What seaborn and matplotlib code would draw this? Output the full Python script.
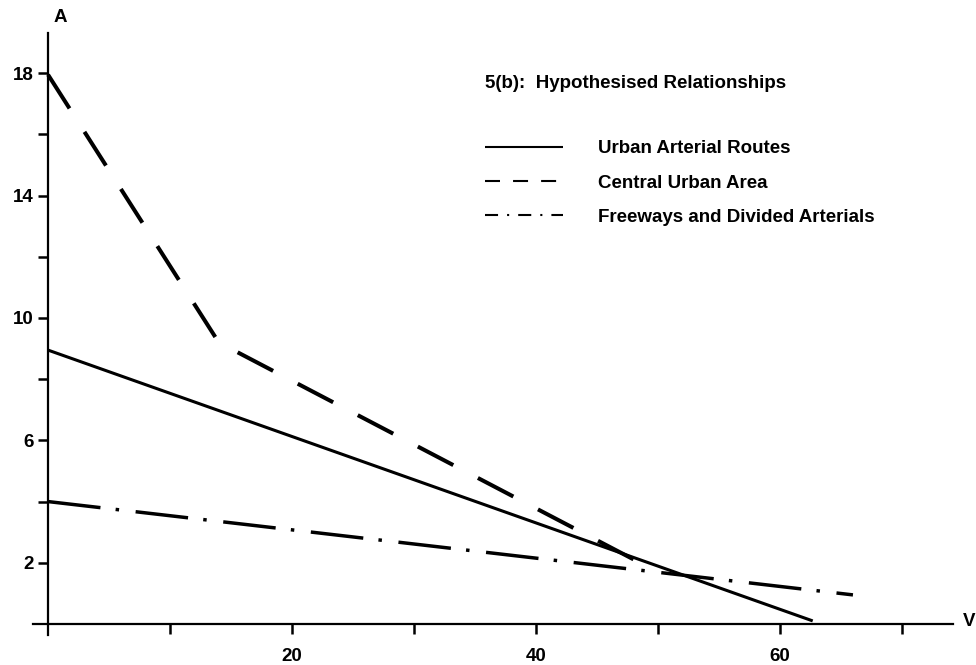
import matplotlib
matplotlib.use("Agg")
import matplotlib.pyplot as plt
from matplotlib.lines import Line2D
import seaborn as sns

# ---- data ----
series_names = ["Urban Arterial Routes", "Central Urban Area", "Freeways and Divided Arterials"]
speed_urban = [0.0, 62.7]
a_urban = [8.95, 0.1]
speed_central = [0.0, 14.0, 48.3]
a_central = [17.95, 9.2, 2.05]
speed_freeway = [0.0, 66.0]
a_freeway = [4.0, 0.95]

x_major = [20, 40, 60]
x_minor = [10, 30, 50, 70]
y_major = [2, 6, 10, 14, 18]
y_minor = [4, 8, 12, 16]
title_text = "5(b):  Hypothesised Relationships"

sns.set_theme(style="white")
plt.rcParams["font.family"] = ["Liberation Sans", "DejaVu Sans"]
plt.rcParams["font.weight"] = "bold"
plt.rcParams["lines.scale_dashes"] = False

FS = 13.5
fig = plt.figure(figsize=(9.76, 6.65), dpi=100)
ax = fig.add_axes([0.0342, 0.0456, 0.9422, 0.9042])
ax.set_facecolor("white")

sns.lineplot(x=speed_urban, y=a_urban, ax=ax, color="black", linewidth=2.2,
             estimator=None, sort=False, legend=False)
ax.lines[-1].set_solid_capstyle("butt")
sns.lineplot(x=speed_central, y=a_central, ax=ax, color="black", linewidth=2.9,
             estimator=None, sort=False, legend=False)
ax.lines[-1].set_dashes([28.8, 20.0])
sns.lineplot(x=speed_freeway, y=a_freeway, ax=ax, color="black", linewidth=2.5,
             estimator=None, sort=False, legend=False)
ax.lines[-1].set_dashes([38.0, 11.0, 2.5, 12.0])

ax.set_xlim(-1.2, 74.2)
ax.set_ylim(-0.35, 19.3)

for s in ["top", "right"]:
    ax.spines[s].set_visible(False)
ax.spines["left"].set_position(("data", 0))
ax.spines["bottom"].set_position(("data", 0))
for s in ["left", "bottom"]:
    ax.spines[s].set_color("black")
    ax.spines[s].set_linewidth(1.6)

ax.set_xticks(x_major)
ax.set_xticks(x_minor, minor=True)
ax.set_yticks(y_major)
ax.set_yticks(y_minor, minor=True)
ax.set_xticklabels([str(v) for v in x_major])
ax.set_yticklabels([str(v) for v in y_major])
ax.tick_params(axis="x", which="both", direction="out", length=7, width=1.8,
               color="black", bottom=True)
ax.tick_params(axis="y", which="both", direction="out", length=7, width=1.8,
               color="black", left=True)
ax.tick_params(axis="x", which="major", pad=10, labelsize=FS, labelcolor="black")
ax.tick_params(axis="y", which="major", pad=3.5, labelsize=FS, labelcolor="black")
for lab in ax.get_xticklabels() + ax.get_yticklabels():
    lab.set_fontweight("bold")

ax.set_xlabel("")
ax.set_ylabel("")

# axis letters
fig.text(60 / 976, 1 - 17 / 665, "A", ha="center", va="center", fontsize=FS,
         fontweight="bold", color="black")
fig.text(975 / 976, 1 - 622 / 665, "V", ha="right", va="center", fontsize=FS,
         fontweight="bold", color="black")

# heading
fig.text(485 / 976, 1 - 83 / 665, title_text, ha="left", va="center",
         fontsize=FS, fontweight="bold", color="black")

# legend
handles = [
    Line2D([], [], color="black", linewidth=1.5, linestyle="-", solid_capstyle="butt"),
    Line2D([], [], color="black", linewidth=1.5, dashes=[10.8, 9.4]),
    Line2D([], [], color="black", linewidth=1.5, dashes=[9.4, 6.5, 1.5, 6.5]),
]
leg = ax.legend(handles, series_names, loc="upper left",
                bbox_to_anchor=(485 / 976, 1 - 140 / 665),
                bbox_transform=fig.transFigure, frameon=False,
                borderpad=0, borderaxespad=0, handlelength=4.16,
                handletextpad=1.87, labelspacing=0.92,
                prop={"size": FS, "weight": "bold"})
for t in leg.get_texts():
    t.set_color("black")

fig.savefig("out.png", dpi=100, facecolor="white")
